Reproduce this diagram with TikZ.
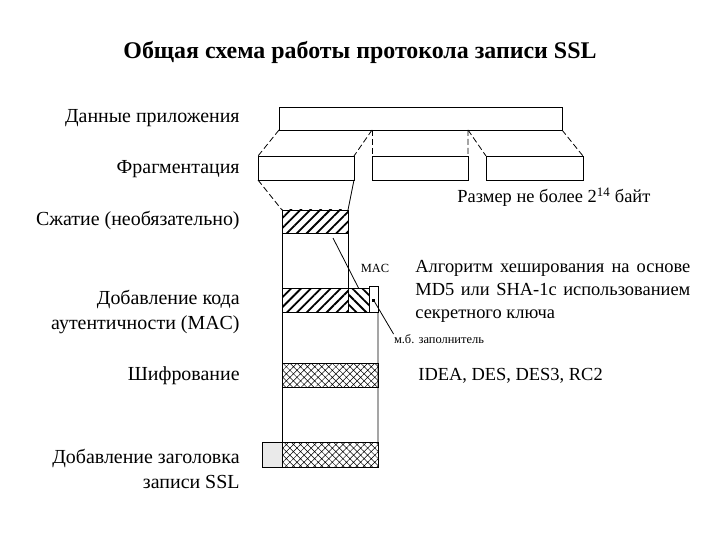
\documentclass[tikz,border=0pt]{standalone}
\usepackage{fontspec}
\setmainfont{Liberation Serif}
\usetikzlibrary{patterns,patterns.meta,positioning}

\tikzset{
  blk/.style={draw,inner sep=0pt,outer sep=0pt,anchor=north west},
  cut/.style={dash pattern=on 6bp off 3bp},
  hatchNE/.style={pattern={Lines[angle=45,distance=7bp,line width=1.8bp]}},
  hatchNW/.style={pattern={Lines[angle=-45,distance=7bp,line width=1.8bp]}},
  crossh/.style={pattern={Hatch[angle=45,distance=5bp,line width=0.5bp]}},
  stage/.style={anchor=east,inner sep=0pt,align=right,font=\fontsize{20}{25}\selectfont},
  note/.style={inner sep=0pt,font=\fontsize{18.5}{23}\selectfont},
  tiny/.style={inner sep=0pt,font=\fontsize{12.5}{14}\selectfont}
}

\begin{document}
\begin{tikzpicture}[x=1bp,y=-1bp,thick]
\useasboundingbox (0,0) rectangle (720,540);

% title
\node[inner sep=0pt,font=\bfseries\fontsize{24}{26}\selectfont] (title) at (360,52)
  {Общая схема работы протокола записи SSL};

% stage labels
\node[stage] (l1) at (240,118) {Данные приложения};
\node[stage] (l2) at (240,169) {Фрагментация};
\node[stage] (l3) at (240,220) {Сжатие (необязательно)};
\node[stage] (l4) at (240,312) {Добавление кода\\аутентичности (MAC)};
\node[stage] (l5) at (240,376) {Шифрование};
\node[stage] (l6) at (240,469) {Добавление заголовка\\записи SSL};

% application data and fragments
\node[blk,minimum width=283bp,minimum height=23bp] (data) at (279,107) {};
\node[blk,minimum width=96bp,minimum height=24bp] (f1) at (258,156) {};
\node[blk,minimum width=96bp,minimum height=24bp] (f2) at (372,156) {};
\node[blk,minimum width=97bp,minimum height=24bp] (f3) at (486,156) {};
\coordinate (s1) at (372,130);
\coordinate (s2) at (468,130);
\draw[cut] (data.south west) -- (f1.north west);
\draw[cut] (s1) -- (f1.north east);
\draw[cut] (s1) -- (f2.north west);
\draw[cut] (s2) -- (f2.north east);
\draw[cut] (s2) -- (f3.north west);
\draw[cut] (data.south east) -- (f3.north east);
\node[note,anchor=west] (size) at (457,197) {Размер не более 2\textsuperscript{14} байт};

% compression
\node[blk,hatchNE,minimum width=66bp,minimum height=23bp] (comp) at (282,210) {};
\draw[cut] (f1.south west) -- (comp.north west);
\draw (f1.south east) -- (comp.north east);

% MAC
\node[blk,hatchNE,minimum width=66bp,minimum height=24bp] (dat2) at (282,288) {};
\node[blk,hatchNW,minimum width=21bp,minimum height=24bp] (mac) at (dat2.north east) {};
\node[blk,minimum width=9bp,minimum height=26bp] (pad) at (369,286) {};
\node[fill,minimum size=3bp,inner sep=0pt] (dot) at (373.5,300) {};
\coordinate (m0) at (333,238);
\draw (m0) -- (mac.north);
\node[tiny] (maclbl) at (375,268) {MAC};
\node[tiny] (padlbl) at (439,339) {м.б. заполнитель};
\draw (dot) -- (padlbl.north west);
\node[note,anchor=north west,text width=275bp,align=justify] (alg) at (415,260)
  {Алгоритм хеширования на основе\linebreak MD5 или SHA-1с использованием\linebreak секретного ключа};

% encryption
\node[blk,crossh,minimum width=96bp,minimum height=24bp] (enc) at (282,363) {};
\node[note,anchor=west] (ciph) at (418,376) {IDEA, DES, DES3, RC2};

% header
\node[blk,crossh,minimum width=96bp,minimum height=25bp] (rec) at (282,442) {};
\node[blk,pattern={Dots[distance=2bp,radius=0.4bp]},minimum width=20bp,minimum height=25bp,anchor=north east] (hdr) at (rec.north west) {};

% record column
\draw (comp.south west) -- (rec.north west);
\draw (comp.south east) -- (dat2.north east);
\draw (pad.south east) -- (rec.north east);
\end{tikzpicture}
\end{document}
